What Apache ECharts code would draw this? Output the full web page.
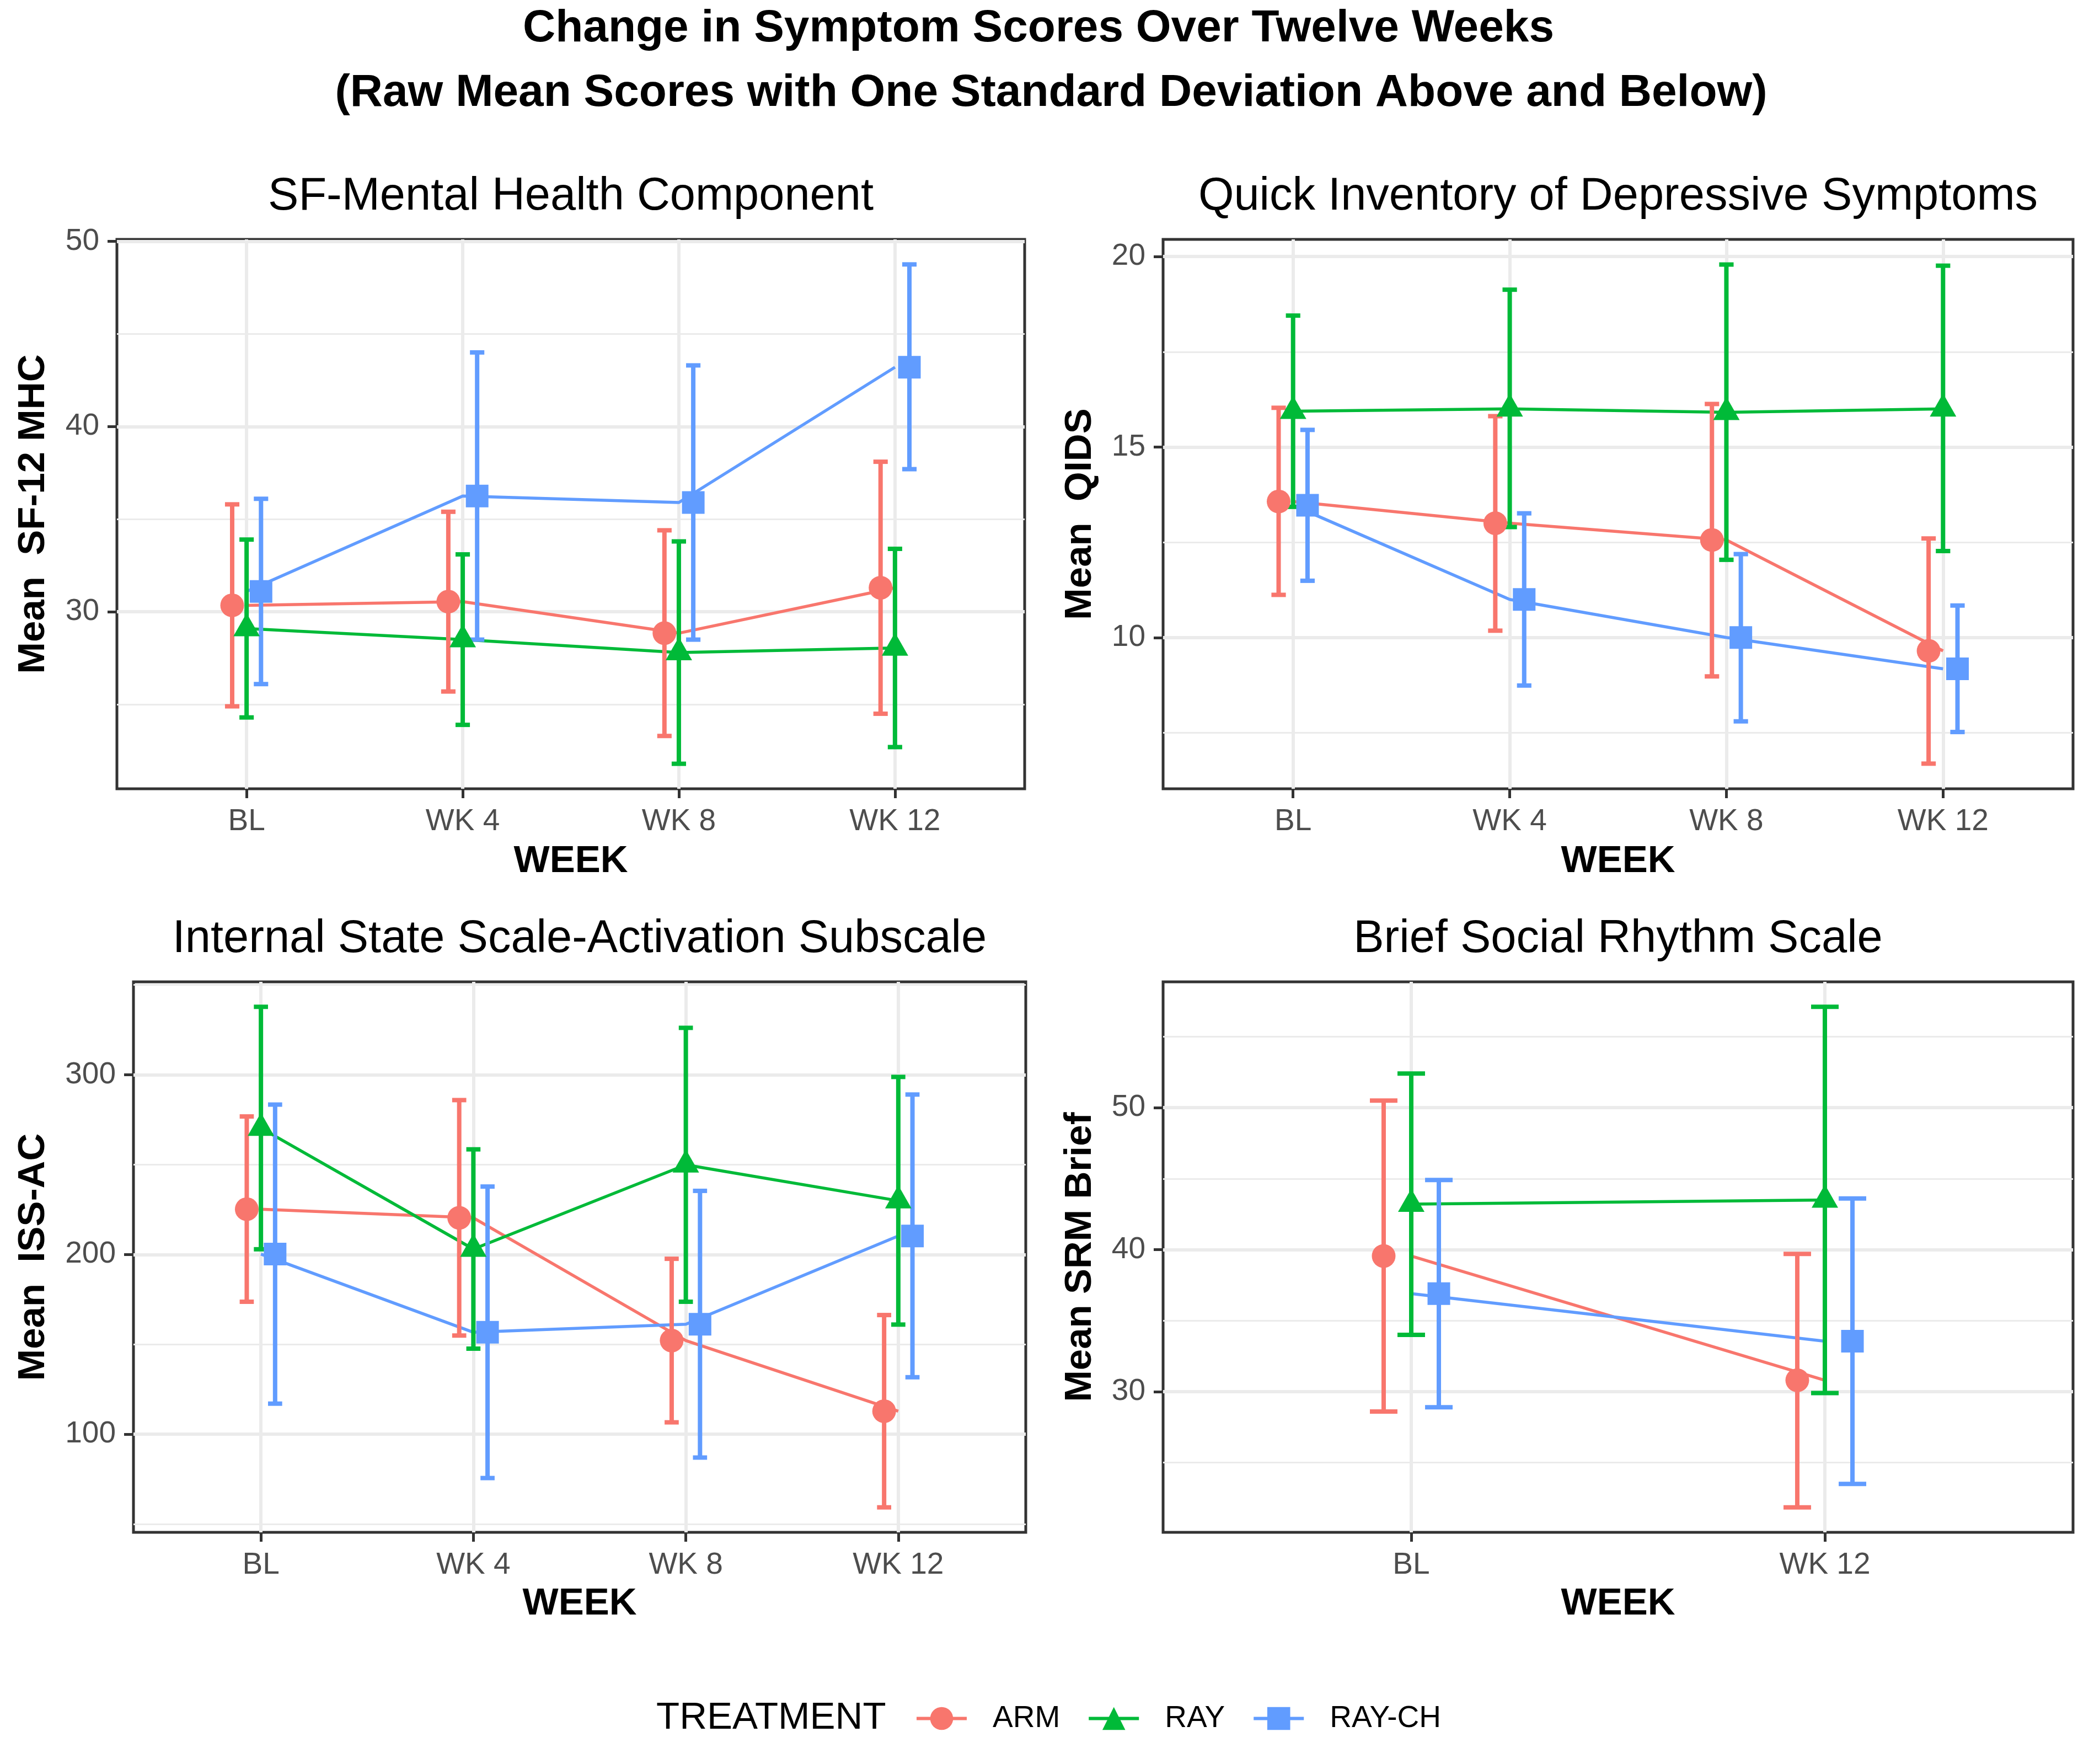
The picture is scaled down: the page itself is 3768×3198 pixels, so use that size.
<!DOCTYPE html>
<html>
<head>
<meta charset="utf-8">
<script src="https://cdn.jsdelivr.net/npm/echarts@6/dist/echarts.min.js"></script>
<style>
html,body{margin:0;padding:0;background:#ffffff;}
#chart{width:3768px;height:3198px;}
</style>
</head>
<body>
<div id="chart"></div>
<script>
// ---------------- DATA ----------------
const weeks4 = ['BL', 'WK 4', 'WK 8', 'WK 12'];
const weeks2 = ['BL', 'WK 12'];
const treatments = ['ARM', 'RAY', 'RAY-CH'];

// SF-12 Mental Health Component
const mhcArmMean   = [30.35, 30.55, 28.85, 31.3];
const mhcArmLow    = [24.9, 25.7, 23.3, 24.5];
const mhcArmHigh   = [35.8, 35.4, 34.4, 38.1];
const mhcRayMean   = [29.1, 28.5, 27.8, 28.05];
const mhcRayLow    = [24.3, 23.9, 21.8, 22.7];
const mhcRayHigh   = [33.9, 33.1, 33.8, 33.4];
const mhcRaychMean = [31.1, 36.25, 35.9, 43.2];
const mhcRaychLow  = [26.1, 28.5, 28.5, 37.7];
const mhcRaychHigh = [36.1, 44.0, 43.3, 48.75];

// QIDS
const qidsArmMean   = [13.57, 13.0, 12.56, 9.65];
const qidsArmLow    = [11.12, 10.18, 8.98, 6.69];
const qidsArmHigh   = [16.03, 15.81, 16.13, 12.6];
const qidsRayMean   = [15.94, 16.0, 15.91, 16.0];
const qidsRayLow    = [13.43, 12.9, 12.04, 12.27];
const qidsRayHigh   = [18.45, 19.13, 19.79, 19.76];
const qidsRaychMean = [13.47, 11.0, 10.0, 9.18];
const qidsRaychLow  = [11.49, 8.74, 7.8, 7.52];
const qidsRaychHigh = [15.45, 13.26, 12.19, 10.84];

// ISS Activation
const issArmMean   = [225.2, 220.4, 152.1, 112.8];
const issArmLow    = [173.7, 154.9, 106.6, 59.3];
const issArmHigh   = [276.8, 285.9, 197.6, 166.3];
const issRayMean   = [270.3, 203.0, 249.9, 229.9];
const issRayLow    = [202.9, 147.6, 173.7, 161.0];
const issRayHigh   = [337.8, 258.5, 326.1, 298.8];
const issRaychMean = [200.2, 156.7, 161.2, 210.3];
const issRaychLow  = [117.0, 75.6, 87.0, 131.7];
const issRaychHigh = [283.4, 237.8, 235.4, 289.0];

// SRM Brief
const srmArmMean   = [39.55, 30.8];
const srmArmLow    = [28.6, 21.85];
const srmArmHigh   = [50.5, 39.7];
const srmRayMean   = [43.2, 43.5];
const srmRayLow    = [34.0, 29.9];
const srmRayHigh   = [52.4, 57.1];
const srmRaychMean = [36.9, 33.55];
const srmRaychLow  = [28.9, 23.5];
const srmRaychHigh = [44.9, 43.6];

// Tick labels / gridlines
const mhcTicks = [30, 40, 50];   const mhcMinor = [25, 35, 45];
const qidsTicks = [10, 15, 20];  const qidsMinor = [7.5, 12.5, 17.5];
const issTicks = [100, 200, 300]; const issMinor = [50, 150, 250, 350];
const srmTicks = [30, 40, 50];   const srmMinor = [25, 35, 45, 55];

// ---------------- STYLE ----------------
const FONT = 'Liberation Sans, Arial, Helvetica, sans-serif';
const colors = ['#F8766D', '#00BA38', '#619CFF'];
const symbols = ['circle', 'triangle', 'rect'];
const symbolSizes = [43, [48, 42], 41];
const symbolOffsets = [[0, 0], [0, '-16.7%'], [0, 0]];
const dodge = [-0.0667, 0, 0.0667];
const capHalf = 0.0333;

const panels = [
  { title: 'SF-Mental Health Component', yName: 'Mean  SF-12 MHC', cats: weeks4,
    grid: { left: 212, top: 434, width: 1646, height: 996 }, yMin: 20.45, yMax: 50.1,
    ticks: mhcTicks, minor: mhcMinor, nameGap: 117, xNameGap: 97,
    mean: [mhcArmMean, mhcRayMean, mhcRaychMean], low: [mhcArmLow, mhcRayLow, mhcRaychLow], high: [mhcArmHigh, mhcRayHigh, mhcRaychHigh] },
  { title: 'Quick Inventory of Depressive Symptoms', yName: 'Mean  QIDS', cats: weeks4,
    grid: { left: 2109, top: 434, width: 1650, height: 996 }, yMin: 6.03, yMax: 20.45,
    ticks: qidsTicks, minor: qidsMinor, nameGap: 116, xNameGap: 97,
    mean: [qidsArmMean, qidsRayMean, qidsRaychMean], low: [qidsArmLow, qidsRayLow, qidsRaychLow], high: [qidsArmHigh, qidsRayHigh, qidsRaychHigh] },
  { title: 'Internal State Scale-Activation Subscale', yName: 'Mean  ISS-AC', cats: weeks4,
    grid: { left: 242, top: 1780, width: 1618, height: 998 }, yMin: 45.4, yMax: 351.7,
    ticks: issTicks, minor: issMinor, nameGap: 147, xNameGap: 95,
    mean: [issArmMean, issRayMean, issRaychMean], low: [issArmLow, issRayLow, issRaychLow], high: [issArmHigh, issRayHigh, issRaychHigh] },
  { title: 'Brief Social Rhythm Scale', yName: 'Mean SRM Brief', cats: weeks2,
    grid: { left: 2109, top: 1780, width: 1650, height: 998 }, yMin: 20.09, yMax: 58.86,
    ticks: srmTicks, minor: srmMinor, nameGap: 116, xNameGap: 95,
    mean: [srmArmMean, srmRayMean, srmRaychMean], low: [srmArmLow, srmRayLow, srmRaychLow], high: [srmArmHigh, srmRayHigh, srmRaychHigh] }
];

function renderErrorBar(params, api) {
  const x = api.value(0), lo = api.value(1), hi = api.value(2);
  const pLo = api.coord([x, lo]);
  const pHi = api.coord([x, hi]);
  const l = api.coord([x - capHalf, lo])[0];
  const r = api.coord([x + capHalf, lo])[0];
  const style = { stroke: api.visual('color'), lineWidth: 8 };
  return {
    type: 'group',
    children: [
      { type: 'line', shape: { x1: pLo[0], y1: pLo[1], x2: pHi[0], y2: pHi[1] }, style: style },
      { type: 'line', shape: { x1: l, y1: pHi[1], x2: r, y2: pHi[1] }, style: style },
      { type: 'line', shape: { x1: l, y1: pLo[1], x2: r, y2: pLo[1] }, style: style }
    ]
  };
}

const grids = [], xAxes = [], yAxes = [], series = [], graphics = [];
const lineSeries = [], barSeries = [], pointSeries = [];

panels.forEach(function (p, k) {
  grids.push(Object.assign({ show: true, borderColor: '#333333', borderWidth: 5, backgroundColor: 'transparent' }, p.grid));
  const catIdx = p.cats.map(function (c, i) { return i + 1; });
  xAxes.push({
    type: 'value', gridIndex: k, min: 0.4, max: p.cats.length + 0.6,
    axisLine: { show: false },
    axisTick: { show: true, customValues: catIdx, length: 17, lineStyle: { color: '#333333', width: 5 } },
    axisLabel: { customValues: catIdx, margin: 32, fontSize: 55, color: '#4D4D4D', fontFamily: FONT,
      formatter: function (v) { return p.cats[Math.round(v) - 1]; } },
    splitLine: { show: false },
    name: 'WEEK', nameLocation: 'middle', nameGap: p.xNameGap,
    nameTextStyle: { fontSize: 69, fontWeight: 'bold', color: '#000000', fontFamily: FONT, lineHeight: 69 }
  });
  yAxes.push({
    type: 'value', gridIndex: k, min: p.yMin, max: p.yMax,
    axisLine: { show: false },
    axisTick: { show: true, customValues: p.ticks, length: 17, lineStyle: { color: '#333333', width: 5 } },
    axisLabel: { customValues: p.ticks, margin: 32, fontSize: 55, color: '#4D4D4D', fontFamily: FONT },
    splitLine: { show: false },
    name: p.yName, nameLocation: 'middle', nameGap: p.nameGap,
    nameTextStyle: { fontSize: 69, fontWeight: 'bold', color: '#000000', fontFamily: FONT, lineHeight: 69 }
  });

  // grid lines
  const gl = [];
  p.ticks.forEach(function (v) { gl.push({ yAxis: v, lineStyle: { color: '#EBEBEB', width: 6, type: 'solid' } }); });
  p.minor.forEach(function (v) { gl.push({ yAxis: v, lineStyle: { color: '#EBEBEB', width: 3, type: 'solid' } }); });
  catIdx.forEach(function (v) { gl.push({ xAxis: v, lineStyle: { color: '#EBEBEB', width: 6, type: 'solid' } }); });
  series.push({
    type: 'line', name: 'gridlines' + k, xAxisIndex: k, yAxisIndex: k, data: [], silent: true, z: 1,
    markLine: { silent: true, symbol: ['none', 'none'], label: { show: false }, z: 1, animation: false, data: gl }
  });

  treatments.forEach(function (t, j) {
    lineSeries.push({
      type: 'line', name: t, xAxisIndex: k, yAxisIndex: k, z: 3,
      data: p.cats.map(function (c, i) { return [i + 1, p.mean[j][i]]; }),
      showSymbol: false, symbol: symbols[j], symbolSize: symbolSizes[j],
      itemStyle: { color: colors[j] }, lineStyle: { color: colors[j], width: 5.5 }
    });
    barSeries.push({
      type: 'custom', name: t, xAxisIndex: k, yAxisIndex: k, z: 4,
      renderItem: renderErrorBar, itemStyle: { color: colors[j] },
      encode: { x: 0, y: [1, 2] },
      data: p.cats.map(function (c, i) { return [i + 1 + dodge[j], p.low[j][i], p.high[j][i]]; })
    });
    pointSeries.push({
      type: 'scatter', name: t, xAxisIndex: k, yAxisIndex: k, z: 5,
      symbol: symbols[j], symbolSize: symbolSizes[j], symbolOffset: symbolOffsets[j],
      itemStyle: { color: colors[j], opacity: 1 },
      data: p.cats.map(function (c, i) { return [i + 1 + dodge[j], p.mean[j][i]]; })
    });
  });

  graphics.push({
    type: 'text', x: p.grid.left + p.grid.width / 2, y: p.grid.top - 77,
    style: { text: p.title, fontSize: 83, fontFamily: FONT, fill: '#000000', align: 'center', verticalAlign: 'middle' }
  });
});

graphics.push({
  type: 'text', x: 1883, y: 52,
  style: { text: 'Change in Symptom Scores Over Twelve Weeks', fontSize: 82, fontWeight: 'bold', fontFamily: FONT, fill: '#000000', align: 'center', verticalAlign: 'middle' }
});
graphics.push({
  type: 'text', x: 1906, y: 169,
  style: { text: '(Raw Mean Scores with One Standard Deviation Above and Below)', fontSize: 82, fontWeight: 'bold', fontFamily: FONT, fill: '#000000', align: 'center', verticalAlign: 'middle' }
});
graphics.push({
  type: 'text', x: 1190, y: 3115,
  style: { text: 'TREATMENT', fontSize: 69, fontFamily: FONT, fill: '#000000', align: 'left', verticalAlign: 'middle' }
});

const option = {
  animation: false,
  backgroundColor: '#ffffff',
  textStyle: { fontFamily: FONT },
  grid: grids,
  xAxis: xAxes,
  yAxis: yAxes,
  legend: {
    data: treatments, left: 1659, top: 3088, orient: 'horizontal', padding: 0,
    itemWidth: 91, itemHeight: 52, itemGap: 49, selectedMode: false,
    lineStyle: { width: 6 },
    textStyle: { fontSize: 55, color: '#000000', fontFamily: FONT, padding: [0, 0, 0, 42] }
  },
  graphic: graphics,
  series: series.concat(lineSeries, barSeries, pointSeries)
};

const chart = echarts.init(document.getElementById('chart'), null, { renderer: 'canvas' });
chart.setOption(option);
</script>
</body>
</html>
